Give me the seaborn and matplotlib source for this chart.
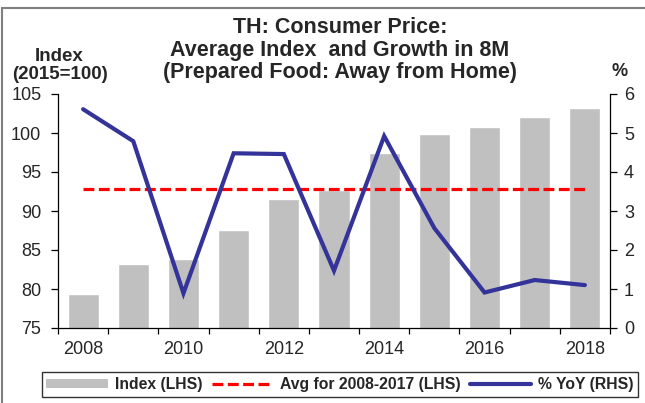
import matplotlib
matplotlib.use("Agg")
import matplotlib.pyplot as plt
from matplotlib.patches import Rectangle, Patch
from matplotlib.lines import Line2D
from matplotlib.ticker import MultipleLocator, FixedLocator, NullFormatter
import seaborn as sns
import pandas as pd

# Average index over the first eight months of each year (2015=100)
years = [2008, 2009, 2010, 2011, 2012, 2013, 2014, 2015, 2016, 2017, 2018]
index_lhs = [79.4, 83.2, 83.9, 87.6, 91.5, 92.7, 97.5, 99.9, 100.8, 102.0, 103.2]
# Year-on-year growth, %
yoy_rhs = [5.61, 4.79, 0.89, 4.48, 4.46, 1.47, 4.92, 2.56, 0.91, 1.23, 1.10]
# Average index for 2008-2017
avg_2008_2017 = 92.85

title_lines = ["TH: Consumer Price:",
               "Average Index  and Growth in 8M",
               "(Prepared Food: Away from Home)"]
legend_labels = ["Index (LHS)", "Avg for 2008-2017 (LHS)", "% YoY (RHS)"]

sns.set_theme(style="white")
plt.rcParams["font.family"] = ["Liberation Sans", "DejaVu Sans"]

BAR = "#c0c0c0"
RED = "#ff0000"
BLUE = "#333399"

df = pd.DataFrame({"year": years, "index": index_lhs, "yoy": yoy_rhs,
                   "avg": [avg_2008_2017] * len(years)})

fig = plt.figure(figsize=(6.45, 4.03), dpi=100)
W, H = 645, 403
ax = fig.add_axes([58 / W, 1 - 328 / H, (610 - 58) / W, (328 - 94) / H])

sns.barplot(data=df, x="year", y="index", native_scale=True, color=BAR,
            width=0.62, saturation=1, ax=ax, zorder=1)
sns.lineplot(data=df, x="year", y="avg", ax=ax, color=RED, lw=2.3,
             zorder=3)
ax.lines[-1].set_dashes((3.4, 1.4))

ax.set_ylim(75, 105)
ax.set_xlim(2007.5, 2018.5)
ax.yaxis.set_major_locator(MultipleLocator(5))
ax.xaxis.set_major_locator(FixedLocator(years[::2]))
ax.xaxis.set_minor_locator(FixedLocator([y + 0.5 for y in [2007] + years]))
ax.xaxis.set_minor_formatter(NullFormatter())
ax.set_xlabel("")
ax.set_ylabel("")

ax2 = ax.twinx()
sns.lineplot(data=df, x="year", y="yoy", ax=ax2, color=BLUE, lw=3.0,
             zorder=4, solid_capstyle="round", solid_joinstyle="miter")
ax2.set_ylim(0, 6)
ax2.yaxis.set_major_locator(MultipleLocator(1))
ax2.set_ylabel("")
ax2.set_xlim(2007.5, 2018.5)

for a in (ax, ax2):
    for s in a.spines.values():
        s.set_visible(False)
    a.grid(False)
    a.set_facecolor("none")

ax.spines["left"].set_visible(True)
ax.spines["bottom"].set_visible(True)
ax2.spines["right"].set_visible(True)
for s in (ax.spines["left"], ax.spines["bottom"], ax2.spines["right"]):
    s.set_color("black")
    s.set_linewidth(0.9)

ax.tick_params(axis="y", which="major", direction="out", length=5, width=0.9,
               color="black", labelsize=13, pad=7, left=True)
ax.tick_params(axis="x", which="major", length=0, labelsize=13, pad=9)
ax.tick_params(axis="x", which="minor", direction="out", length=4, width=0.9,
               color="black", bottom=True)
ax2.tick_params(axis="y", direction="out", length=5, width=0.9, color="black",
                labelsize=13, pad=5, right=True)

# Title, one line at a time
for line, base in zip(title_lines, (33, 56, 78)):
    fig.text(340 / W, 1 - base / H, line, ha="center", va="baseline",
             fontsize=15.5, fontweight="bold")

fig.text(59 / W, 1 - 61 / H, "Index", ha="center", va="baseline",
         fontsize=13.5, fontweight="bold")
fig.text(60 / W, 1 - 79 / H, "(2015=100)", ha="center", va="baseline",
         fontsize=13.5, fontweight="bold")
fig.text(620 / W, 1 - 76 / H, "%", ha="center", va="baseline",
         fontsize=13, fontweight="bold")

handles = [Patch(facecolor=BAR, edgecolor="none"),
           Line2D([], [], color=RED, lw=2.3, dashes=(3.4, 1.4)),
           Line2D([], [], color=BLUE, lw=3.0)]
leg = fig.legend(handles, legend_labels, loc="center",
                 bbox_to_anchor=(340 / W, 1 - 384.5 / H), ncol=3,
                 frameon=True, fancybox=False, edgecolor="black",
                 handlelength=3.9, handleheight=0.45, handletextpad=0.45,
                 columnspacing=0.6, borderpad=0.3,
                 prop={"weight": "bold", "size": 11.3})
leg.get_frame().set_linewidth(1.0)

# Outer frame around the figure
fig.patches.append(Rectangle((2 / W, -0.1), 1.2, 1 - 8 / H + 0.1,
                             transform=fig.transFigure, fill=False,
                             edgecolor="#808080", lw=1.5))

fig.savefig("out.png", dpi=100)
